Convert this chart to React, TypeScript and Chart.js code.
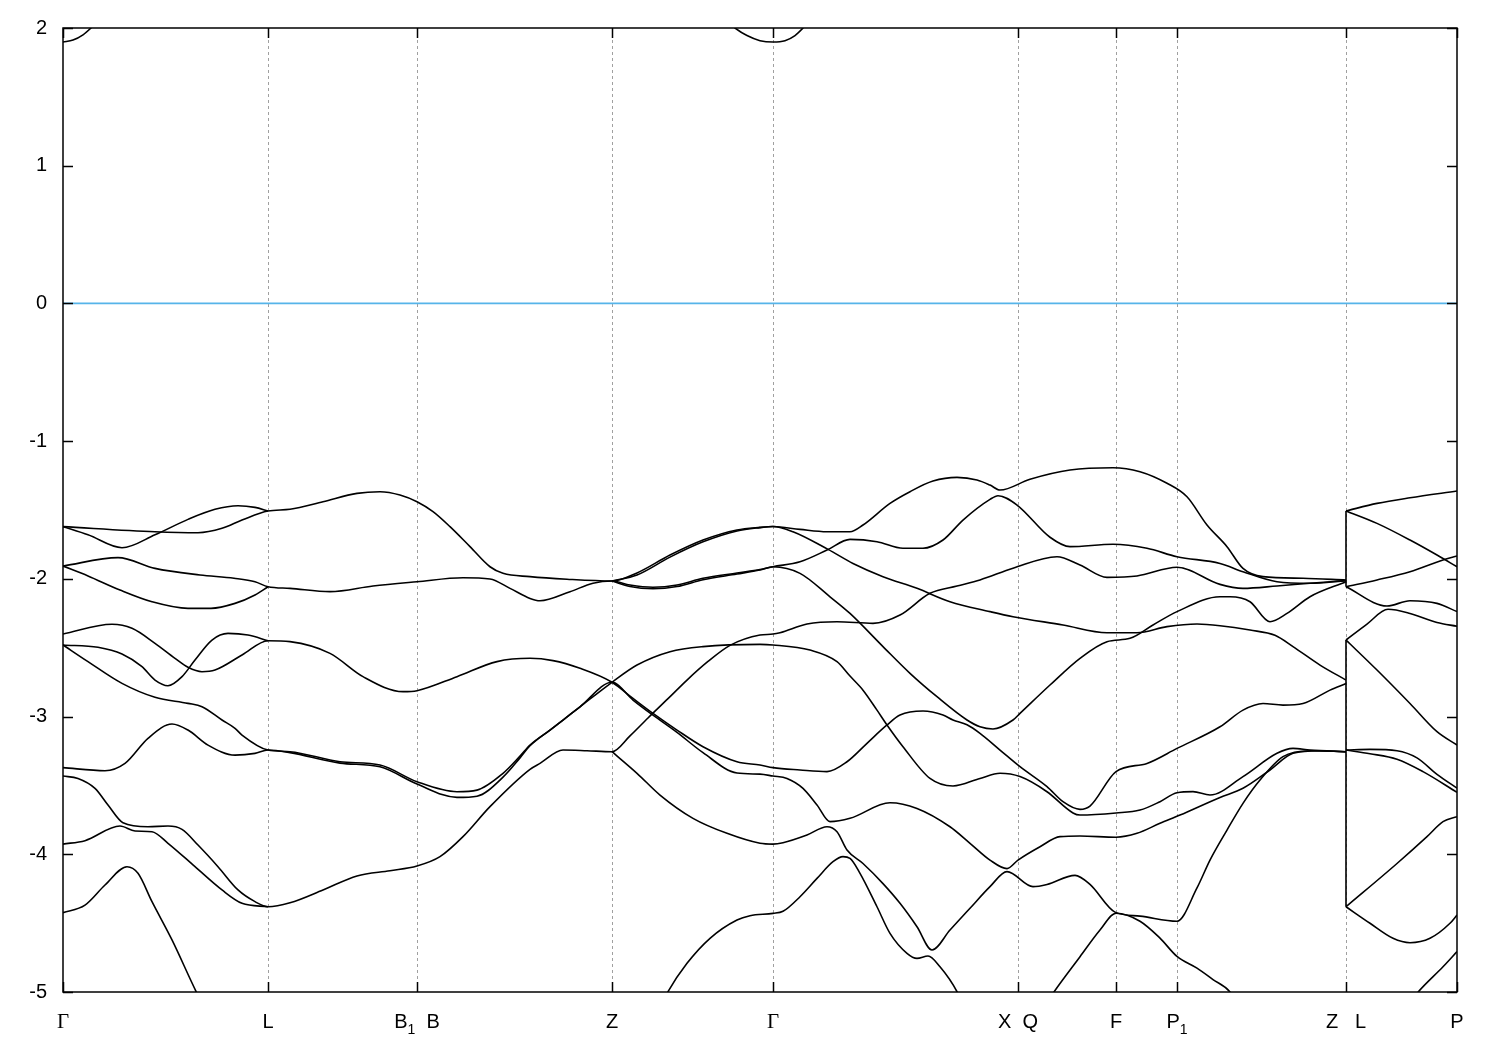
import React, { useEffect, useRef } from 'react';
import { Chart, registerables } from 'chart.js';

Chart.register(...registerables);

// High-symmetry path positions (arbitrary k-path units) and labels ("_" marks a subscript)
const kTicks = [0, 0.205, 0.354, 0.549, 0.71, 0.955, 1.053, 1.114, 1.283, 1.394];
const kLabels = ['Γ', 'L', 'B_1  B', 'Z', 'Γ', 'X  Q', 'F', 'P_1', 'Z   L', 'P'];
const yTicks = [-5, -4, -3, -2, -1, 0, 1, 2];
const fermiLine = [[0, 0], [1.394, 0]];

// Conduction band pieces (top of window)
const topG0 = [[0, 1.898], [0.01, 1.912], [0.02, 1.95], [0.028, 2.0], [0.036, 2.06]];
const topG1 = [[0.664, 2.05], [0.672, 2.0], [0.684, 1.945], [0.697, 1.908], [0.71, 1.898], [0.722, 1.908], [0.732, 1.945], [0.74, 2.0], [0.746, 2.05]];

// Valence bands, Γ → L → B1|B → Z → Γ → X|Q → F → P1 → Z
const bandA1 = [[0, -1.621], [0.092, -1.658], [0.135, -1.665], [0.159, -1.633], [0.179, -1.573], [0.205, -1.507], [0.227, -1.495], [0.26, -1.44], [0.294, -1.379], [0.317, -1.367], [0.337, -1.391], [0.354, -1.44], [0.37, -1.512], [0.387, -1.621], [0.407, -1.766], [0.427, -1.912], [0.44, -1.96], [0.467, -1.984], [0.504, -2.003], [0.549, -2.016], [0.574, -1.957], [0.607, -1.827], [0.64, -1.718], [0.674, -1.645], [0.697, -1.626], [0.71, -1.62], [0.737, -1.641], [0.764, -1.658], [0.787, -1.658], [0.8, -1.609], [0.827, -1.452], [0.847, -1.367], [0.87, -1.29], [0.894, -1.263], [0.914, -1.282], [0.927, -1.319], [0.937, -1.355], [0.967, -1.277], [1.007, -1.21], [1.05, -1.193], [1.077, -1.222], [1.104, -1.306], [1.124, -1.404], [1.144, -1.609], [1.164, -1.766], [1.18, -1.924], [1.2, -1.984], [1.24, -1.996], [1.283, -2.008]];
const bandA2 = [[0, -1.621], [0.025, -1.68], [0.059, -1.774], [0.092, -1.68], [0.125, -1.568], [0.152, -1.495], [0.175, -1.469], [0.192, -1.481], [0.205, -1.507]];
const bandA3 = [[0.549, -2.016], [0.574, -1.972], [0.607, -1.842], [0.64, -1.731], [0.674, -1.652], [0.697, -1.628], [0.71, -1.62], [0.73, -1.658], [0.765, -1.786], [0.79, -1.888], [0.82, -1.984], [0.854, -2.069], [0.887, -2.166], [0.927, -2.238], [0.95, -2.275], [1.0, -2.335], [1.044, -2.391], [1.074, -2.391], [1.104, -2.347], [1.134, -2.328], [1.157, -2.34], [1.187, -2.372], [1.212, -2.41], [1.23, -2.492], [1.257, -2.626], [1.283, -2.735]];
const bandB1 = [[0, -1.907], [0.055, -1.846], [0.092, -1.924], [0.137, -1.972], [0.171, -1.996], [0.192, -2.021], [0.205, -2.057], [0.227, -2.069], [0.267, -2.093], [0.31, -2.052], [0.354, -2.021], [0.4, -1.992], [0.427, -2.001], [0.447, -2.069], [0.467, -2.142], [0.477, -2.159], [0.507, -2.093], [0.53, -2.032], [0.549, -2.016], [0.567, -2.045], [0.59, -2.061], [0.614, -2.045], [0.64, -1.996], [0.674, -1.957], [0.697, -1.932], [0.71, -1.912], [0.737, -1.876], [0.764, -1.791], [0.787, -1.713], [0.814, -1.73], [0.84, -1.778], [0.86, -1.778], [0.88, -1.718], [0.9, -1.573], [0.927, -1.423], [0.935, -1.396], [0.954, -1.464], [0.987, -1.698], [1.007, -1.766], [1.05, -1.749], [1.084, -1.778], [1.114, -1.839], [1.157, -1.888], [1.18, -1.948], [1.214, -2.021], [1.247, -2.032], [1.283, -2.013]];
const bandB2 = [[0, -1.907], [0.025, -1.979], [0.057, -2.081], [0.089, -2.166], [0.125, -2.214], [0.148, -2.214], [0.172, -2.178], [0.192, -2.117], [0.205, -2.057]];
const bandB3 = [[0.549, -2.016], [0.567, -2.056], [0.59, -2.072], [0.614, -2.056], [0.64, -2.006], [0.674, -1.965], [0.697, -1.936], [0.71, -1.912], [0.737, -1.96], [0.767, -2.13], [0.787, -2.251], [0.82, -2.492], [0.847, -2.686], [0.874, -2.856], [0.904, -3.025], [0.917, -3.074], [0.93, -3.09], [0.95, -3.025], [0.957, -2.977], [0.987, -2.771], [1.017, -2.577], [1.044, -2.456], [1.067, -2.432], [1.09, -2.335], [1.114, -2.238], [1.157, -2.13], [1.167, -2.13], [1.187, -2.166], [1.207, -2.311], [1.224, -2.251], [1.247, -2.13], [1.283, -2.021]];
const bandC1 = [[0, -2.401], [0.049, -2.33], [0.069, -2.359], [0.092, -2.468], [0.112, -2.577], [0.125, -2.642], [0.139, -2.674], [0.152, -2.662], [0.179, -2.553], [0.205, -2.449], [0.227, -2.456], [0.267, -2.541], [0.3, -2.71], [0.34, -2.819], [0.354, -2.812], [0.394, -2.71], [0.434, -2.601], [0.467, -2.577], [0.49, -2.594], [0.517, -2.65], [0.549, -2.751], [0.57, -2.868], [0.59, -2.977], [0.614, -3.098], [0.64, -3.219], [0.674, -3.328], [0.697, -3.352], [0.71, -3.371], [0.737, -3.388], [0.764, -3.4], [0.784, -3.328], [0.804, -3.194], [0.824, -3.061], [0.837, -2.989], [0.86, -2.96], [0.88, -2.989], [0.89, -3.025], [0.904, -3.06], [0.917, -3.122], [0.937, -3.243], [0.957, -3.364], [0.984, -3.509], [1.0, -3.618], [1.017, -3.674], [1.027, -3.65], [1.053, -3.4], [1.084, -3.34], [1.114, -3.231], [1.157, -3.074], [1.18, -2.953], [1.2, -2.905], [1.22, -2.917], [1.24, -2.905], [1.267, -2.808], [1.283, -2.76]];
const bandC2 = [[0, -2.48], [0.035, -2.497], [0.059, -2.546], [0.079, -2.638], [0.092, -2.735], [0.105, -2.776], [0.119, -2.71], [0.132, -2.589], [0.149, -2.444], [0.165, -2.396], [0.185, -2.408], [0.205, -2.449]];
const bandC3 = [[0, -2.48], [0.025, -2.601], [0.059, -2.759], [0.092, -2.86], [0.125, -2.904], [0.139, -2.928], [0.159, -3.025], [0.172, -3.085], [0.179, -3.134], [0.205, -3.243], [0.227, -3.255], [0.277, -3.328], [0.317, -3.352], [0.354, -3.473], [0.394, -3.546], [0.414, -3.534], [0.44, -3.412], [0.457, -3.287], [0.467, -3.207], [0.487, -3.098], [0.5, -3.025], [0.517, -2.929], [0.549, -2.751], [0.574, -2.626], [0.607, -2.529], [0.64, -2.492], [0.697, -2.476], [0.71, -2.48], [0.747, -2.517], [0.774, -2.601], [0.787, -2.706], [0.8, -2.808], [0.814, -2.953], [0.824, -3.061], [0.84, -3.219], [0.867, -3.449], [0.89, -3.504], [0.917, -3.449], [0.937, -3.412], [0.957, -3.436], [0.984, -3.546], [1.01, -3.7], [1.017, -3.715], [1.053, -3.7], [1.077, -3.679], [1.097, -3.618], [1.114, -3.553], [1.13, -3.545], [1.147, -3.57], [1.18, -3.436], [1.214, -3.267], [1.23, -3.231], [1.247, -3.243], [1.283, -3.255]];
const bandD = [[0, -3.371], [0.042, -3.393], [0.062, -3.34], [0.085, -3.158], [0.109, -3.054], [0.125, -3.098], [0.145, -3.207], [0.172, -3.28], [0.192, -3.267], [0.205, -3.243], [0.227, -3.262], [0.277, -3.338], [0.317, -3.365], [0.354, -3.49], [0.394, -3.587], [0.414, -3.578], [0.44, -3.44], [0.457, -3.3], [0.467, -3.212], [0.487, -3.098], [0.5, -3.025], [0.517, -2.929], [0.549, -2.751], [0.57, -2.88], [0.59, -2.99], [0.614, -3.115], [0.64, -3.262], [0.674, -3.41], [0.697, -3.418], [0.71, -3.432], [0.724, -3.449], [0.74, -3.521], [0.754, -3.642], [0.767, -3.763], [0.787, -3.739], [0.827, -3.626], [0.854, -3.667], [0.887, -3.8], [0.907, -3.92], [0.927, -4.042], [0.944, -4.104], [0.955, -4.042], [0.977, -3.945], [0.997, -3.872], [1.017, -3.867], [1.053, -3.876], [1.074, -3.848], [1.097, -3.775], [1.117, -3.715], [1.157, -3.587], [1.18, -3.521], [1.207, -3.388], [1.23, -3.267], [1.257, -3.248], [1.283, -3.255]];
const bandE1 = [[0, -3.432], [0.015, -3.449], [0.032, -3.521], [0.045, -3.642], [0.06, -3.771], [0.085, -3.8], [0.105, -3.795], [0.119, -3.819], [0.135, -3.933], [0.155, -4.09], [0.175, -4.259], [0.192, -4.344], [0.205, -4.381], [0.227, -4.352], [0.26, -4.259], [0.294, -4.157], [0.327, -4.119], [0.354, -4.085], [0.377, -4.017], [0.4, -3.872], [0.427, -3.654], [0.467, -3.383], [0.477, -3.34], [0.5, -3.243], [0.524, -3.248], [0.549, -3.255], [0.567, -3.14], [0.585, -3.01], [0.605, -2.87], [0.624, -2.735], [0.645, -2.6], [0.667, -2.483], [0.697, -2.408], [0.71, -2.401], [0.717, -2.391], [0.744, -2.328], [0.774, -2.311], [0.81, -2.323], [0.837, -2.263], [0.867, -2.105], [0.894, -2.052], [0.917, -2.008], [0.95, -1.923], [0.994, -1.839], [1.017, -1.9], [1.044, -1.989], [1.074, -1.979], [1.114, -1.916], [1.157, -2.04], [1.18, -2.069], [1.214, -2.052], [1.247, -2.032], [1.283, -2.013]];
const bandE2 = [[0, -3.926], [0.022, -3.901], [0.057, -3.795], [0.072, -3.831], [0.089, -3.836], [0.105, -3.92], [0.132, -4.09], [0.159, -4.259], [0.179, -4.356], [0.205, -4.381]];
const bandE3 = [[0.549, -3.255], [0.574, -3.412], [0.597, -3.57], [0.63, -3.739], [0.664, -3.848], [0.697, -3.92], [0.71, -3.926], [0.72, -3.916], [0.744, -3.86], [0.764, -3.8], [0.774, -3.836], [0.784, -3.969], [0.8, -4.067], [0.82, -4.213], [0.837, -4.356], [0.854, -4.526], [0.869, -4.695], [0.887, -4.55], [0.907, -4.392], [0.927, -4.235], [0.944, -4.126], [0.97, -4.235], [0.984, -4.219], [1.012, -4.153], [1.027, -4.219], [1.052, -4.42], [1.077, -4.449], [1.114, -4.486], [1.134, -4.244], [1.147, -4.042], [1.164, -3.824], [1.18, -3.63], [1.197, -3.461], [1.22, -3.291], [1.247, -3.248], [1.283, -3.255]];
const bandF1 = [[0, -4.424], [0.022, -4.369], [0.042, -4.223], [0.064, -4.09], [0.075, -4.138], [0.089, -4.344], [0.109, -4.622], [0.134, -5.01], [0.142, -5.12]];
const bandF2 = [[0.598, -5.1], [0.604, -5.01], [0.624, -4.792], [0.647, -4.61], [0.674, -4.477], [0.687, -4.446], [0.71, -4.429], [0.72, -4.414], [0.737, -4.308], [0.754, -4.175], [0.77, -4.054], [0.78, -4.017], [0.787, -4.03], [0.797, -4.138], [0.814, -4.381], [0.827, -4.574], [0.844, -4.719], [0.854, -4.756], [0.865, -4.739], [0.877, -4.817], [0.894, -4.998], [0.9, -5.1]];
const bandF3 = [[0.982, -5.1], [0.99, -5.01], [1.017, -4.744], [1.037, -4.55], [1.053, -4.428], [1.077, -4.486], [1.097, -4.609], [1.114, -4.742], [1.134, -4.827], [1.15, -4.91], [1.167, -5.0], [1.175, -5.1]];

// L → P segment (after the Z|L jump)
const bandR1 = [[1.283, -1.507], [1.314, -1.452], [1.347, -1.411], [1.394, -1.362]];
const bandR2 = [[1.283, -1.507], [1.314, -1.597], [1.347, -1.718], [1.374, -1.827], [1.394, -1.912]];
const bandR3 = [[1.283, -2.057], [1.314, -2.008], [1.347, -1.948], [1.38, -1.863], [1.394, -1.834]];
const bandR4 = [[1.283, -2.057], [1.324, -2.197], [1.347, -2.159], [1.374, -2.178], [1.394, -2.238]];
const bandR5 = [[1.283, -2.444], [1.304, -2.328], [1.325, -2.221], [1.347, -2.251], [1.374, -2.317], [1.394, -2.344]];
const bandR6 = [[1.283, -2.444], [1.314, -2.662], [1.347, -2.905], [1.374, -3.11], [1.394, -3.207]];
const bandR7 = [[1.283, -3.243], [1.307, -3.238], [1.334, -3.248], [1.354, -3.3], [1.374, -3.42], [1.394, -3.52]];
const bandR8 = [[1.283, -3.243], [1.307, -3.27], [1.334, -3.31], [1.36, -3.4], [1.394, -3.55]];
const bandR9 = [[1.283, -4.381], [1.334, -4.067], [1.364, -3.872], [1.38, -3.763], [1.394, -3.727]];
const bandR10 = [[1.283, -4.381], [1.307, -4.501], [1.33, -4.61], [1.347, -4.642], [1.367, -4.61], [1.387, -4.501], [1.394, -4.441]];
const bandR11 = [[1.35, -5.05], [1.354, -5.01], [1.38, -4.817], [1.394, -4.707]];
const jumpZL1 = [[1.283, -1.507], [1.283, -2.057]];
const jumpZL2 = [[1.283, -2.444], [1.283, -4.381]];

const smoothBands = [
  topG0, topG1, bandA1, bandA2, bandA3, bandB1, bandB2, bandB3, bandC1, bandC2, bandC3,
  bandD, bandE1, bandE2, bandE3, bandF1, bandF2, bandF3,
  bandR1, bandR2, bandR3, bandR4, bandR5, bandR6, bandR7, bandR8, bandR9, bandR10, bandR11,
];
const straightBands = [jumpZL1, jumpZL2];

const FONT = "'Liberation Sans', Arial, Helvetica, sans-serif";
const SERIF = "'Liberation Serif', 'Times New Roman', serif";

function drawKLabel(ctx: CanvasRenderingContext2D, label: string, cx: number, baseY: number) {
  const runs: { t: string; sub: boolean }[] = [];
  for (let i = 0; i < label.length; i++) {
    const ch = label[i];
    if (ch === '_' && i + 1 < label.length) {
      runs.push({ t: label[i + 1], sub: true });
      i++;
    } else {
      runs.push({ t: ch, sub: false });
    }
  }
  const fontFor = (r: { t: string; sub: boolean }) =>
    r.sub ? `14px ${FONT}` : r.t === 'Γ' ? `21px ${SERIF}` : `20px ${FONT}`;
  let total = 0;
  const widths = runs.map((r) => {
    ctx.font = fontFor(r);
    const w = ctx.measureText(r.t).width;
    total += w;
    return w;
  });
  let x = cx - total / 2;
  ctx.textAlign = 'left';
  ctx.textBaseline = 'alphabetic';
  ctx.fillStyle = '#000';
  runs.forEach((r, i) => {
    ctx.font = fontFor(r);
    ctx.fillText(r.t, x, r.sub ? baseY + 6 : baseY);
    x += widths[i];
  });
}

const framePlugin = {
  id: 'gnuplotFrame',
  beforeDatasetsDraw(chart: any) {
    const { ctx, chartArea: a, scales } = chart;
    const x = scales.x;
    ctx.save();
    ctx.strokeStyle = '#a0a0a0';
    ctx.lineWidth = 1;
    ctx.setLineDash([3, 3]);
    kTicks.slice(1, -1).forEach((v) => {
      const px = Math.round(x.getPixelForValue(v)) + 0.5;
      ctx.beginPath();
      ctx.moveTo(px, a.top);
      ctx.lineTo(px, a.bottom);
      ctx.stroke();
    });
    ctx.restore();
  },
  afterDatasetsDraw(chart: any) {
    const { ctx, chartArea: a, scales } = chart;
    const x = scales.x;
    const y = scales.y;
    ctx.save();
    ctx.strokeStyle = '#000';
    ctx.lineWidth = 1.5;
    ctx.setLineDash([]);
    ctx.strokeRect(a.left, a.top, a.right - a.left, a.bottom - a.top);
    const len = 10;
    yTicks.forEach((v) => {
      const py = Math.round(y.getPixelForValue(v)) + 0.5;
      ctx.beginPath();
      ctx.moveTo(a.left, py);
      ctx.lineTo(a.left + len, py);
      ctx.moveTo(a.right, py);
      ctx.lineTo(a.right - len, py);
      ctx.stroke();
    });
    kTicks.forEach((v) => {
      const px = Math.round(x.getPixelForValue(v)) + 0.5;
      ctx.beginPath();
      ctx.moveTo(px, a.bottom);
      ctx.lineTo(px, a.bottom - len);
      ctx.moveTo(px, a.top);
      ctx.lineTo(px, a.top + len);
      ctx.stroke();
    });
    kTicks.forEach((v, i) => {
      drawKLabel(ctx, kLabels[i], x.getPixelForValue(v), a.bottom + 36);
    });
    ctx.restore();
  },
};

export default function App() {
  const canvasRef = useRef<HTMLCanvasElement | null>(null);

  useEffect(() => {
    if (!canvasRef.current) return;
    const toXY = (arr: number[][]) => arr.map(([k, e]) => ({ x: k, y: e }));
    const datasets: any[] = [
      {
        data: toXY(fermiLine),
        borderColor: '#56b4e9',
        borderWidth: 1.8,
        pointRadius: 0,
        tension: 0,
      },
      ...smoothBands.map((b) => ({
        data: toXY(b),
        borderColor: '#000000',
        borderWidth: 1.6,
        pointRadius: 0,
        cubicInterpolationMode: 'monotone',
      })),
      ...straightBands.map((b) => ({
        data: toXY(b),
        borderColor: '#000000',
        borderWidth: 1.6,
        pointRadius: 0,
        tension: 0,
      })),
    ];

    const chart = new Chart(canvasRef.current, {
      type: 'line',
      data: { datasets },
      plugins: [framePlugin],
      options: {
        animation: false,
        responsive: false,
        maintainAspectRatio: false,
        layout: { padding: { left: 0, right: 43, top: 28, bottom: 0 } },
        plugins: { legend: { display: false }, tooltip: { enabled: false } },
        elements: { point: { radius: 0 } },
        scales: {
          x: {
            type: 'linear',
            min: 0,
            max: 1.394,
            afterBuildTicks: (s: any) => {
              s.ticks = kTicks.map((v) => ({ value: v }));
            },
            afterFit: (s: any) => {
              s.height = 58;
            },
            ticks: { display: false },
            grid: { display: false },
            border: { display: false },
          },
          y: {
            type: 'linear',
            min: -5,
            max: 2,
            afterBuildTicks: (s: any) => {
              s.ticks = yTicks.map((v) => ({ value: v }));
            },
            afterFit: (s: any) => {
              s.width = 63;
            },
            ticks: {
              padding: 8,
              color: '#000',
              font: { family: FONT, size: 20 },
              callback: (v: any) => String(v),
            },
            grid: { display: false },
            border: { display: false },
          },
        },
      } as any,
    });
    return () => chart.destroy();
  }, []);

  return (
    <div style={{ position: 'fixed', left: 0, top: 0, width: 1500, height: 1050, background: '#fff' }}>
      <canvas ref={canvasRef} width={1500} height={1050} />
    </div>
  );
}
